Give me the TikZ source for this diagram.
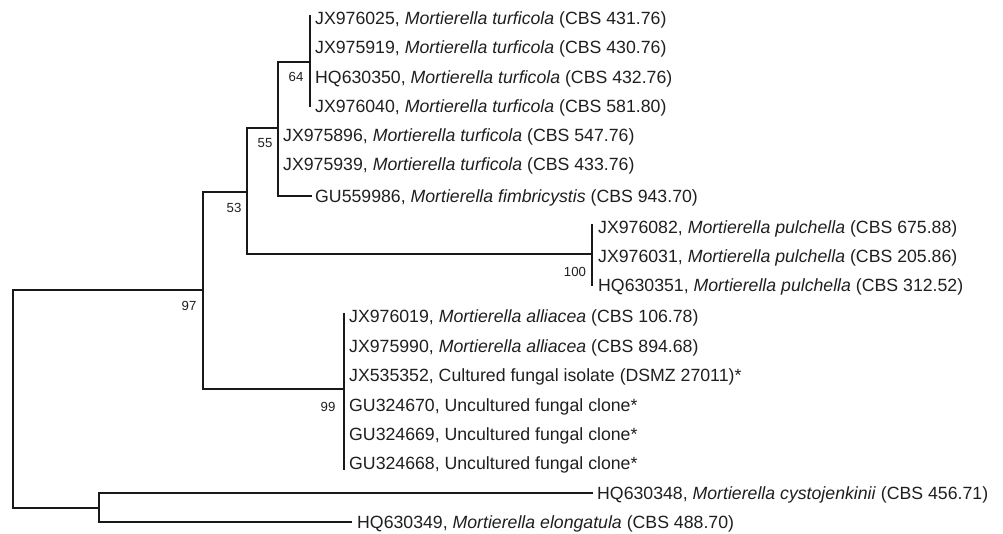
\documentclass[tikz,border=0pt]{standalone}
\usepackage{fontspec}
\setmainfont{Liberation Sans}
\begin{document}
\begin{tikzpicture}[x=1pt,y=-1pt,
  br/.style={line width=1.8pt, color=black!90},
  lab/.style={anchor=base west, inner sep=0pt, yshift=-6.3pt, text=black!88, font=\fontsize{17.7}{20}\selectfont},
  bs/.style={inner sep=0pt, text=black!88, font=\fontsize{13.2}{15}\selectfont}]
\useasboundingbox (0,0) rectangle (1003,534);
% tip labels
\node[lab] (t1) at (315,18) {JX976025, \textit{Mortierella turficola} (CBS 431.76)};
\node[lab] (t2) at (315,47) {JX975919, \textit{Mortierella turficola} (CBS 430.76)};
\node[lab] (t3) at (315,77) {HQ630350, \textit{Mortierella turficola} (CBS 432.76)};
\node[lab] (t4) at (315,106) {JX976040, \textit{Mortierella turficola} (CBS 581.80)};
\node[lab] (t5) at (283,135) {JX975896, \textit{Mortierella turficola} (CBS 547.76)};
\node[lab] (t6) at (283,164) {JX975939, \textit{Mortierella turficola} (CBS 433.76)};
\node[lab] (t7) at (315,196) {GU559986, \textit{Mortierella fimbricystis} (CBS 943.70)};
\node[lab] (t8) at (598,227) {JX976082, \textit{Mortierella pulchella} (CBS 675.88)};
\node[lab] (t9) at (598,256) {JX976031, \textit{Mortierella pulchella} (CBS 205.86)};
\node[lab] (t10) at (598,285) {HQ630351, \textit{Mortierella pulchella} (CBS 312.52)};
\node[lab] (t11) at (349,316) {JX976019, \textit{Mortierella alliacea} (CBS 106.78)};
\node[lab] (t12) at (349,346) {JX975990, \textit{Mortierella alliacea} (CBS 894.68)};
\node[lab] (t13) at (349,375) {JX535352, Cultured fungal isolate (DSMZ 27011)*};
\node[lab] (t14) at (349,405) {GU324670, Uncultured fungal clone*};
\node[lab] (t15) at (349,434) {GU324669, Uncultured fungal clone*};
\node[lab] (t16) at (349,463) {GU324668, Uncultured fungal clone*};
\node[lab] (t17) at (597,493) {HQ630348, \textit{Mortierella cystojenkinii} (CBS 456.71)};
\node[lab] (t18) at (357,522) {HQ630349, \textit{Mortierella elongatula} (CBS 488.70)};
% tree coordinates
\coordinate (root) at (13,399);
\coordinate (n97) at (203,290);
\coordinate (n53) at (247,192);
\coordinate (n55) at (278,128);
\coordinate (n64) at (310,62);
\coordinate (n64a) at (310,15);
\coordinate (n64b) at (310,107);
\coordinate (p7) at (312,196);
\coordinate (n100) at (592,254);
\coordinate (n100a) at (592,224);
\coordinate (n100b) at (592,286);
\coordinate (n99) at (344,389);
\coordinate (n99a) at (344,313);
\coordinate (n99b) at (344,470);
\coordinate (nout) at (99,508);
\coordinate (p17) at (593,493);
\coordinate (p18) at (352,522);
% branches
\draw[br] (n97) -| (root) |- (nout);
\draw[br] (n53) -| (n97) |- (n99);
\draw[br] (n55) -| (n53) |- (n100);
\draw[br] (n64) -| (n55) |- (p7);
\draw[br] (n64a) -- (n64b);
\draw[br] (n100a) -- (n100b);
\draw[br] (n99a) -- (n99b);
\draw[br] (p17) -| (nout) |- (p18);
% bootstrap values
\node[bs] (b64) at (296,77) {64};
\node[bs] (b55) at (265,143) {55};
\node[bs] (b53) at (234,208) {53};
\node[bs] (b97) at (189,306) {97};
\node[bs] (b100) at (575,272) {100};
\node[bs] (b99) at (328,407) {99};
\end{tikzpicture}
\end{document}
